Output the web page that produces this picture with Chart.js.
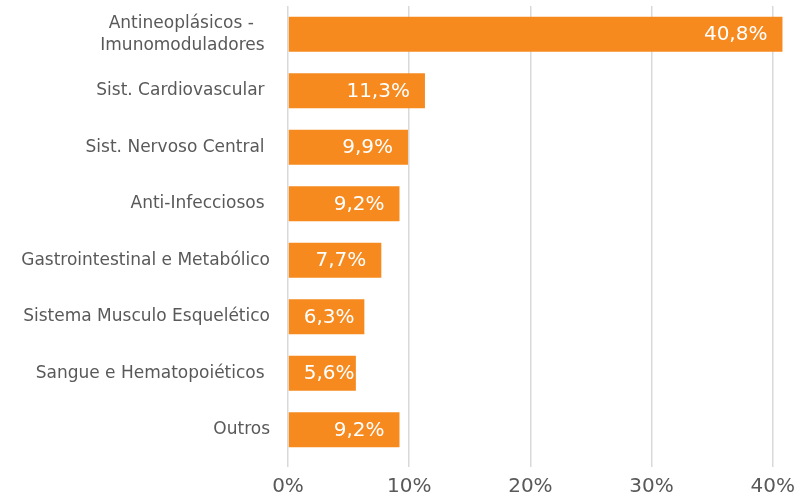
<!DOCTYPE html>
<html lang="pt-BR">
<head>
  <meta charset="UTF-8" />
  <title>Classes terapêuticas</title>
  <script src="https://cdn.jsdelivr.net/npm/chart.js"></script>
  <style>
    html, body {
      margin: 0;
      padding: 0;
      background: #ffffff;
    }
    #wrap {
      width: 809px;
      height: 499px;
    }
  </style>
</head>
<body>
  <div id="wrap"><canvas id="grafico" width="809" height="499"></canvas></div>

  <script>
    // categorias (espaços finais como no original)
    const categorias = [
      ["Antineoplásicos -   ", "Imunomoduladores "],
      "Sist. Cardiovascular ",
      "Sist. Nervoso Central ",
      "Anti-Infecciosos ",
      "Gastrointestinal e Metabólico",
      "Sistema Musculo Esquelético",
      "Sangue e Hematopoiéticos ",
      "Outros"
    ];
    const valores = [40.8, 11.3, 9.9, 9.2, 7.7, 6.3, 5.6, 9.2];
    const ticksX = [0, 10, 20, 30, 40];

    const laranja = "#F68A1F";
    const cinzaTexto = "#595959";
    const fonte = "'DejaVu Sans', sans-serif";

    const fmt = v => v.toFixed(1).replace(".", ",") + "%";

    // rótulos brancos dentro da barra, no fim (sem passar do início)
    const rotulosBarra = {
      id: "rotulosBarra",
      afterDatasetsDraw(chart) {
        const ctx = chart.ctx;
        const meta = chart.getDatasetMeta(0);
        ctx.save();
        ctx.fillStyle = "#ffffff";
        ctx.font = "20px " + fonte;
        ctx.textAlign = "right";
        ctx.textBaseline = "middle";
        meta.data.forEach((bar, i) => {
          const txt = fmt(valores[i]);
          const w = ctx.measureText(txt).width;
          const xr = Math.max(bar.x - 15, bar.base + 15 + w);
          ctx.fillText(txt, xr, bar.y + 1);
        });
        ctx.restore();
      }
    };

    new Chart(document.getElementById("grafico"), {
      type: "bar",
      data: {
        labels: categorias,
        datasets: [{
          data: valores,
          backgroundColor: laranja,
          borderWidth: 0,
          barPercentage: 0.62,
          categoryPercentage: 1
        }]
      },
      options: {
        indexAxis: "y",
        responsive: false,
        animation: false,
        events: [],
        layout: { padding: { top: 6, right: 12, bottom: 0, left: 0 } },
        plugins: {
          legend: { display: false },
          tooltip: { enabled: false }
        },
        scales: {
          x: {
            min: 0,
            max: 42,
            afterBuildTicks: s => {
              s.ticks = ticksX.map(v => ({ value: v }));
            },
            afterFit: s => { s.height = 41; },
            grid: {
              color: "#D9D9D9",
              lineWidth: 1.5,
              tickLength: 9,
              tickColor: "#D9D9D9"
            },
            border: { display: false },
            ticks: {
              color: cinzaTexto,
              font: { family: fonte, size: 20 },
              padding: 8,
              maxRotation: 0,
              callback: v => v + "%"
            }
          },
          y: {
            afterFit: s => {
              s.width = 288;
              s.paddingTop = 0;
              s.paddingBottom = 0;
            },
            grid: { display: false, drawTicks: false },
            border: { display: false },
            ticks: {
              color: cinzaTexto,
              font: { family: fonte, size: 17, lineHeight: 1.3 },
              padding: 18,
              autoSkip: false
            }
          }
        }
      },
      plugins: [rotulosBarra]
    });
  </script>
</body>
</html>
